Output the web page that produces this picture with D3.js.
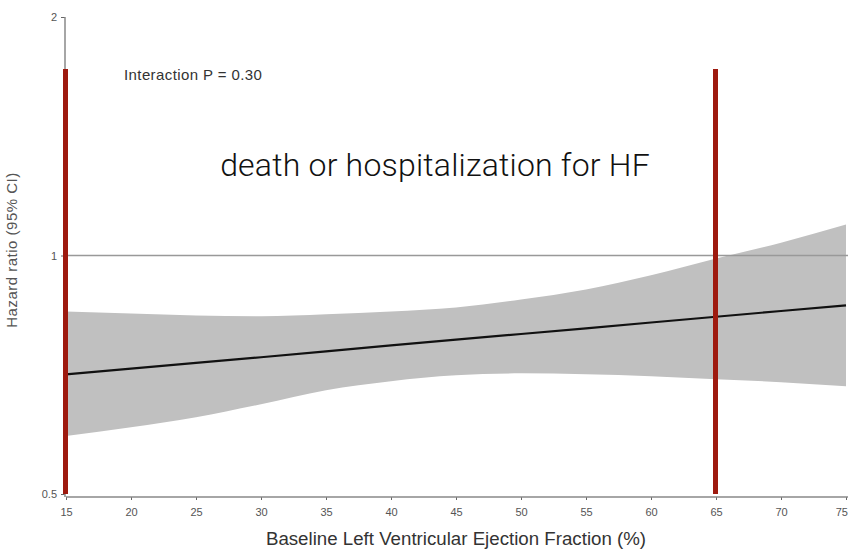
<!DOCTYPE html>
<html>
<head>
<meta charset="utf-8">
<script src="https://cdn.jsdelivr.net/npm/d3@7"></script>
<style>
  html, body { margin: 0; padding: 0; background: #fff; }
  svg { display: block; }
</style>
</head>
<body>
<svg id="chart" width="848" height="549"></svg>
<script>
// Baseline LVEF (%) grid and hazard-ratio curve with 95% CI
const lvef     = [15, 20, 25, 30, 35, 40, 45, 50, 55, 60, 65, 70, 75];
const hrEst    = [0.708, 0.720, 0.732, 0.744, 0.757, 0.770, 0.783, 0.796, 0.809, 0.823, 0.837, 0.851, 0.865];
const hrUpper  = [0.850, 0.845, 0.840, 0.838, 0.843, 0.850, 0.860, 0.880, 0.906, 0.944, 0.991, 1.038, 1.094];
const hrLower  = [0.592, 0.607, 0.625, 0.649, 0.676, 0.694, 0.706, 0.710, 0.708, 0.704, 0.698, 0.692, 0.684];
const xTicks   = [15, 20, 25, 30, 35, 40, 45, 50, 55, 60, 65, 70, 75];
const yTicks   = [0.5, 1, 2];
const markers  = [15, 65];          // highlighted LVEF cut-offs
const refHR    = 1;
const pText    = "Interaction P = 0.30";
const titleText = "death or hospitalization for HF";
const xTitle   = "Baseline Left Ventricular Ejection Fraction (%)";
const yTitle   = "Hazard ratio (95% CI)";

const svg = d3.select("#chart");
const font = "'Liberation Sans', Arial, sans-serif";

const x = d3.scaleLinear().domain([15, 75]).range([66, 846]);
const y = d3.scaleLog().domain([0.5, 2]).range([494, 17]);
const axisY = 497;

const pts = lvef.map((v, i) => ({ x: v, est: hrEst[i], lo: hrLower[i], hi: hrUpper[i] }));

// confidence band
svg.append("path")
  .datum(pts)
  .attr("fill", "#c0c0c0")
  .attr("d", d3.area()
    .x(d => x(d.x))
    .y0(d => y(d.lo))
    .y1(d => y(d.hi))
    .curve(d3.curveMonotoneX));

// reference line at HR = 1
svg.append("line")
  .attr("x1", x(15)).attr("x2", 848)
  .attr("y1", y(refHR)).attr("y2", y(refHR))
  .attr("stroke", "#999").attr("stroke-width", 1.5);

// point estimate
svg.append("path")
  .datum(pts)
  .attr("fill", "none")
  .attr("stroke", "#111")
  .attr("stroke-width", 2.2)
  .attr("d", d3.line().x(d => x(d.x)).y(d => y(d.est)));

// x axis
const gx = svg.append("g")
  .attr("transform", `translate(0,${axisY})`)
  .call(d3.axisBottom(x).tickValues(xTicks).tickSize(3).tickPadding(8).tickFormat(d3.format("d")));
gx.select(".domain").remove();
gx.append("line").attr("x1", x(15)).attr("x2", 848).attr("stroke", "#888").attr("stroke-width", 1.5);
gx.selectAll(".tick line").attr("stroke", "#666");
gx.selectAll(".tick text").attr("fill", "#555").attr("font-size", 11).attr("font-family", font);
gx.selectAll(".tick").filter(d => d === 75).select("text").attr("text-anchor", "end").attr("dx", 1.5);

// y axis
const gy = svg.append("g")
  .attr("transform", `translate(${x(15) - 1},0)`)
  .call(d3.axisLeft(y).tickValues(yTicks).tickSize(4).tickPadding(4).tickFormat(d => String(d)));
gy.select(".domain").remove();
gy.append("line").attr("y1", y(2)).attr("y2", axisY).attr("stroke", "#888").attr("stroke-width", 1.5);
gy.selectAll(".tick line").attr("stroke", "#666");
gy.selectAll(".tick text").attr("fill", "#555").attr("font-size", 11).attr("font-family", font);

// highlighted LVEF markers
svg.selectAll(".marker")
  .data(markers)
  .join("line")
  .attr("class", "marker")
  .attr("x1", d => x(d) - 0.5).attr("x2", d => x(d) - 0.5)
  .attr("y1", 69).attr("y2", y(0.5))
  .attr("stroke", "#9e1a0f").attr("stroke-width", 5);

// annotations
svg.append("text")
  .attr("x", 124).attr("y", 80)
  .attr("font-family", font).attr("font-size", 15).attr("letter-spacing", 0.4).attr("fill", "#333")
  .text(pText);

svg.append("text")
  .attr("x", 435).attr("y", 176)
  .attr("text-anchor", "middle")
  .attr("font-family", "Roboto, 'Liberation Sans', sans-serif")
  .attr("font-weight", 300)
  .attr("font-size", 32).attr("letter-spacing", 0.2).attr("fill", "#111")
  .text(titleText);

svg.append("text")
  .attr("x", 456).attr("y", 545)
  .attr("text-anchor", "middle")
  .attr("font-family", font).attr("font-size", 18.7).attr("fill", "#333")
  .text(xTitle);

svg.append("text")
  .attr("transform", "translate(17,250) rotate(-90)")
  .attr("text-anchor", "middle")
  .attr("font-family", font).attr("font-size", 15).attr("letter-spacing", 0.5).attr("fill", "#555")
  .text(yTitle);
</script>
</body>
</html>
